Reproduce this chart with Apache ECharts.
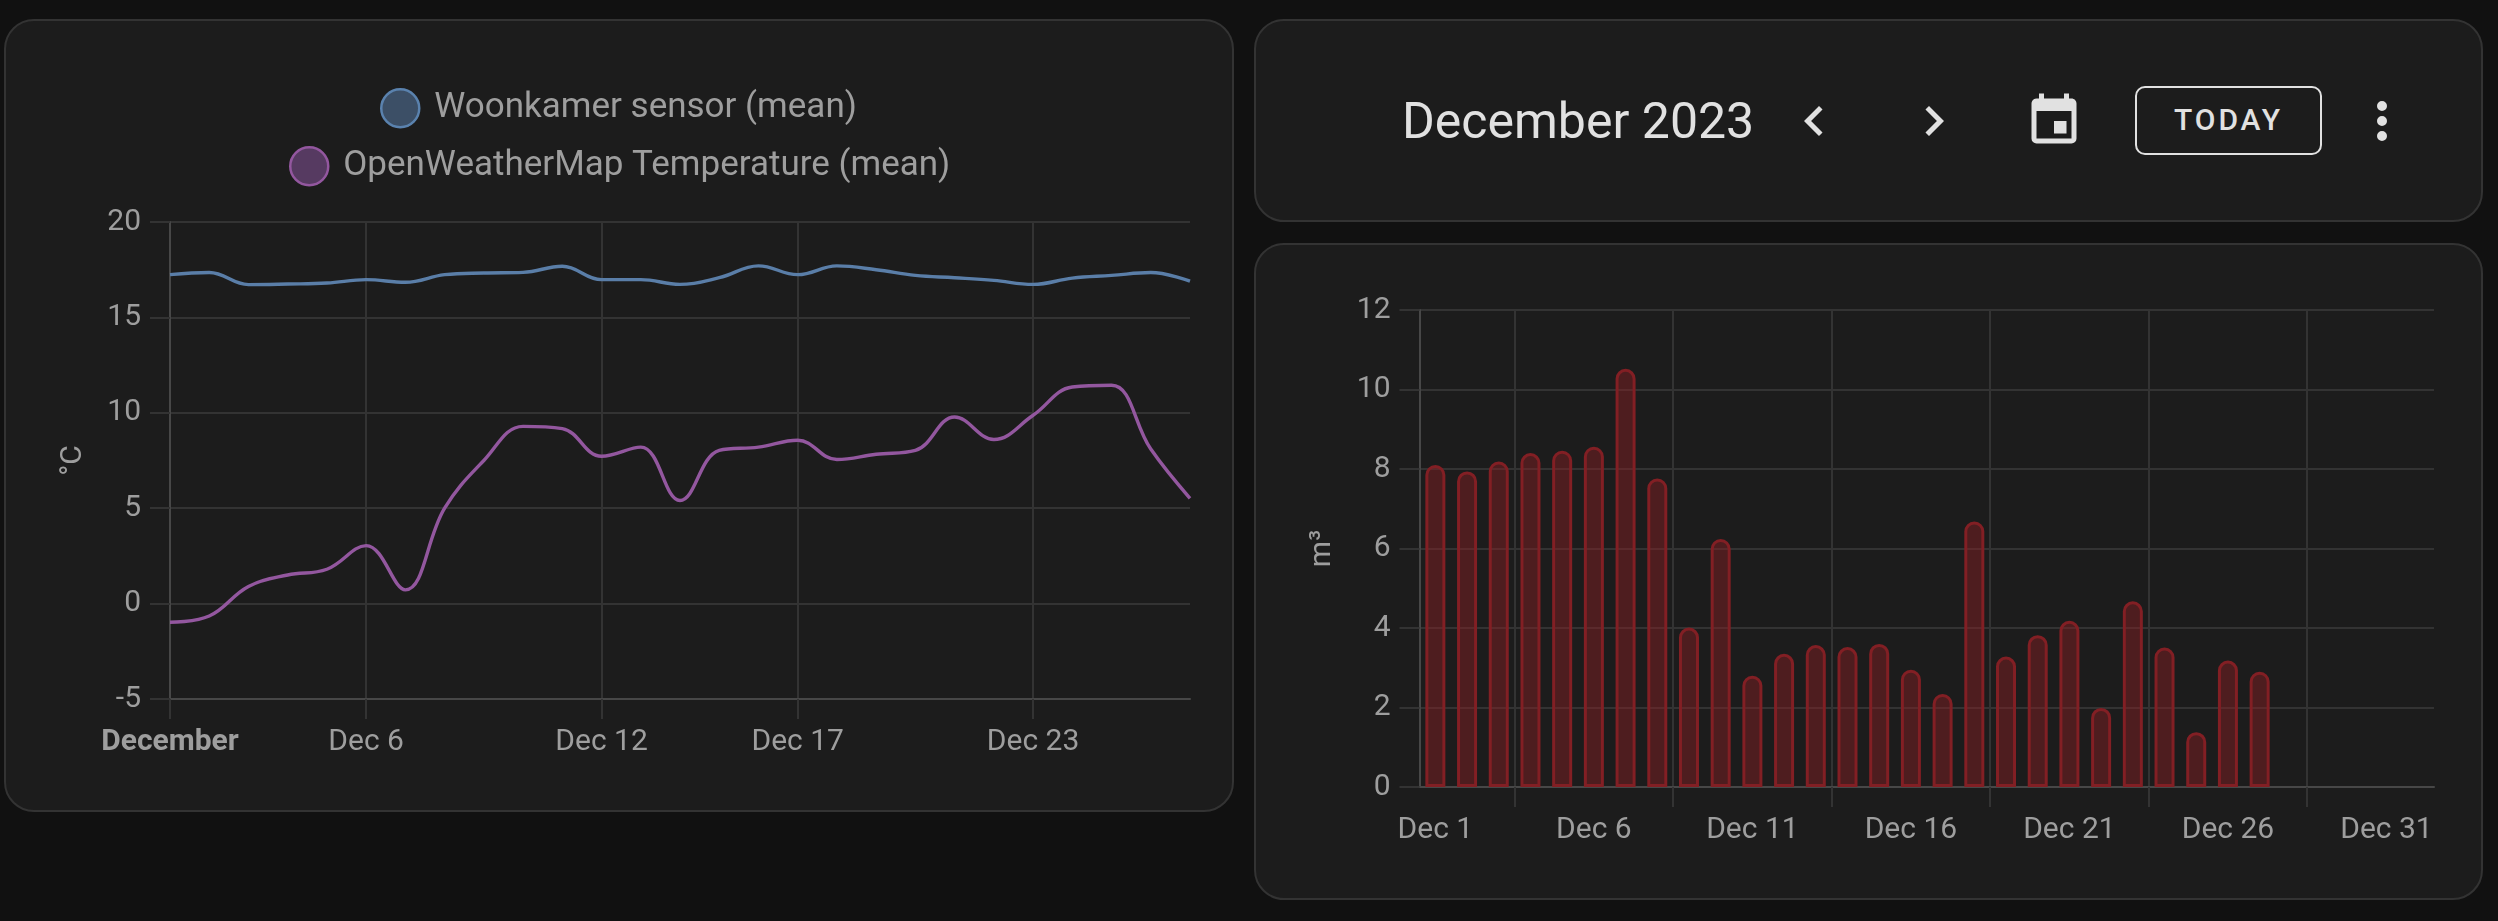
<!DOCTYPE html>
<html>
<head>
<meta charset="utf-8">
<title>December 2023</title>
<script src="https://cdn.jsdelivr.net/npm/echarts@6/dist/echarts.min.js"></script>
<style>
  html, body { margin: 0; width: 2498px; height: 921px; background: #111111; overflow: hidden; font-family: Roboto, sans-serif; }
  .card { position: absolute; box-sizing: border-box; background: #1c1c1c; border: 2px solid #333333; border-radius: 30px; }
  #chart { position: absolute; left: 0; top: 0; width: 2498px; height: 921px; }
  .title { position: absolute; left: 1402px; top: 91px; font-size: 50px; line-height: 60px; color: #e1e1e1; white-space: nowrap; }
  .today { position: absolute; box-sizing: border-box; left: 2135px; top: 86px; width: 187px; height: 69px; border: 2.5px solid #e1e1e1; border-radius: 10px;
           color: #e1e1e1; font-size: 30px; font-weight: 500; letter-spacing: 2.9px; line-height: 64px; text-align: center; }
  svg.icon { position: absolute; fill: #e1e1e1; }
</style>
</head>
<body>
<div class="card" style="left:4px;top:19px;width:1230px;height:793px"></div>
<div class="card" style="left:1254px;top:19px;width:1229px;height:203px"></div>
<div class="card" style="left:1254px;top:243px;width:1229px;height:657px"></div>

<div class="title">December 2023</div>
<svg class="icon" style="left:1784px;top:91px" width="60" height="60" viewBox="0 0 24 24"><path d="M15.41,16.58L10.83,12L15.41,7.41L14,6L8,12L14,18L15.41,16.58Z"/></svg>
<svg class="icon" style="left:1904px;top:91px" width="60" height="60" viewBox="0 0 24 24"><path d="M8.59,16.58L13.17,12L8.59,7.41L10,6L16,12L10,18L8.59,16.58Z"/></svg>
<svg class="icon" style="left:2024px;top:90.5px" width="60" height="60" viewBox="0 0 24 24"><path d="M19 19H5V8H19M16 1V3H8V1H6V3H5C3.89 3 3 3.89 3 5V19A2 2 0 0 0 5 21H19A2 2 0 0 0 21 19V5C21 3.89 20.1 3 19 3H18V1M17 12H12V17H17V12Z"/></svg>
<div class="today">TODAY</div>
<svg class="icon" style="left:2352px;top:91px" width="60" height="60" viewBox="0 0 24 24"><path d="M12,16A2,2 0 0,1 14,18A2,2 0 0,1 12,20A2,2 0 0,1 10,18A2,2 0 0,1 12,16M12,10A2,2 0 0,1 14,12A2,2 0 0,1 12,14A2,2 0 0,1 10,12A2,2 0 0,1 12,10M12,4A2,2 0 0,1 14,6A2,2 0 0,1 12,8A2,2 0 0,1 10,6A2,2 0 0,1 12,4Z"/></svg>

<div id="chart"></div>

<script>
// temperature chart, one value per day starting Dec 1
var sensorName = 'Woonkamer sensor (mean)'
var weatherName = 'OpenWeatherMap Temperature (mean)'
var sensorTemps = [17.24, 17.35, 16.72, 16.75, 16.8, 16.98, 16.84, 17.24, 17.33, 17.36, 17.68, 16.98, 16.98, 16.73,
    17.08, 17.7, 17.24, 17.7, 17.5, 17.2, 17.08, 16.94, 16.73, 17.06, 17.2, 17.35, 16.9]
var weatherTemps = [-0.98, -0.65, 0.9, 1.5, 1.8, 3.04, 0.72, 5.0, 7.5, 9.29, 9.17, 7.72, 8.2, 5.4,
    8.03, 8.2, 8.56, 7.55, 7.83, 8.03, 9.78, 8.6, 9.87, 11.35, 11.44, 8.1, 5.52]
var tempTickDays = [0, 5, 11, 16, 22]
var tempTickLabels = ['December', 'Dec 6', 'Dec 12', 'Dec 17', 'Dec 23']

// water chart, one bar per day, Dec 1 to Dec 27
var waterValues = [8.1, 7.94, 8.19, 8.4, 8.46, 8.56, 10.52, 7.76, 4.01, 6.24, 2.8, 3.35, 3.57, 3.52, 3.6, 2.95, 2.34,
    6.68, 3.28, 3.82, 4.18, 1.99, 4.67, 3.51, 1.38, 3.18, 2.9]
var waterSlots = 32
var waterTickSlots = [3, 8, 13, 18, 23, 28]
var waterLabelDays = [0, 5, 10, 15, 20, 25, 30]
var waterLabels = ['Dec 1', 'Dec 6', 'Dec 11', 'Dec 16', 'Dec 21', 'Dec 26', 'Dec 31']

var labelColor = '#9e9e9e'
var gridColor = '#333333'
var axisColor = '#474747'
var labelFont = 'Roboto'

function baseYAxis(gridIndex, name, min, max, interval, nameGap) {
    return {
        type: 'value',
        gridIndex: gridIndex,
        min: min,
        max: max,
        interval: interval,
        name: name,
        nameLocation: 'middle',
        nameGap: nameGap,
        nameTextStyle: {color: labelColor, fontSize: 30, fontFamily: labelFont},
        axisLine: {show: true, lineStyle: {color: axisColor, width: 2}},
        axisTick: {show: true, length: 20, lineStyle: {color: gridColor, width: 2}},
        axisLabel: {margin: 29, fontSize: 30, color: labelColor, fontFamily: labelFont},
        splitLine: {show: true, lineStyle: {color: gridColor, width: 2}}
    }
}

var chart = echarts.init(document.getElementById('chart'))
var option = {
    animation: false,
    legend: [
        {
            left: 380, top: 88, padding: 0, itemWidth: 38, itemHeight: 38,
            textStyle: {color: labelColor, fontSize: 35, fontFamily: labelFont, padding: [0, 0, 0, 10]},
            data: [{name: sensorName, icon: 'circle', itemStyle: {color: '#3c4f66', borderColor: '#5a82ae', borderWidth: 2.5}}]
        },
        {
            left: 289, top: 146, padding: 0, itemWidth: 38, itemHeight: 38,
            textStyle: {color: labelColor, fontSize: 35, fontFamily: labelFont, padding: [0, 0, 0, 10]},
            data: [{name: weatherName, icon: 'circle', itemStyle: {color: '#563a61', borderColor: '#93579f', borderWidth: 2.5}}]
        }
    ],
    grid: [
        {left: 170, top: 222, width: 1020, height: 477},
        {left: 1419.5, top: 310, width: 1014.5, height: 477}
    ],
    xAxis: [
        {
            type: 'value',
            gridIndex: 0,
            min: 0,
            max: sensorTemps.length - 1,
            axisLine: {show: true, onZero: false, lineStyle: {color: axisColor, width: 2}},
            axisTick: {show: true, length: 20, customValues: tempTickDays, lineStyle: {color: gridColor, width: 2}},
            axisLabel: {
                margin: 28,
                fontSize: 30,
                color: labelColor,
                fontFamily: labelFont,
                customValues: tempTickDays,
                formatter: function (v) {
                    var text = tempTickLabels[tempTickDays.indexOf(v)]
                    return v === 0 ? '{b|' + text + '}' : text
                },
                rich: {b: {fontSize: 30, fontWeight: 'bold', color: labelColor, fontFamily: labelFont}}
            },
            splitLine: {show: true, lineStyle: {color: gridColor, width: 2}}
        },
        {
            type: 'value',
            gridIndex: 1,
            min: 0,
            max: waterSlots,
            axisLine: {show: true, onZero: false, lineStyle: {color: axisColor, width: 2}},
            axisTick: {show: true, length: 20, customValues: waterTickSlots, lineStyle: {color: gridColor, width: 2}},
            axisLabel: {
                margin: 28,
                fontSize: 30,
                color: labelColor,
                fontFamily: labelFont,
                customValues: waterLabelDays.map(function (d) { return d + 0.5 }),
                formatter: function (v) { return waterLabels[waterLabelDays.indexOf(v - 0.5)] }
            },
            splitLine: {show: true, lineStyle: {color: gridColor, width: 2}}
        }
    ],
    yAxis: [
        baseYAxis(0, '°C', -5, 20, 5, 82),
        baseYAxis(1, 'm³', 0, 12, 2, 82)
    ],
    series: [
        {
            name: sensorName,
            type: 'line',
            xAxisIndex: 0,
            yAxisIndex: 0,
            showSymbol: false,
            smooth: 0.4,
            lineStyle: {color: '#5a7ea8', width: 3.4},
            itemStyle: {color: '#5a7ea8'},
            data: sensorTemps.map(function (v, i) { return [i, v] })
        },
        {
            name: weatherName,
            type: 'line',
            xAxisIndex: 0,
            yAxisIndex: 0,
            showSymbol: false,
            smooth: 0.4,
            lineStyle: {color: '#93579f', width: 3.4},
            itemStyle: {color: '#93579f'},
            data: weatherTemps.map(function (v, i) { return [i, v] })
        },
        {
            type: 'bar',
            xAxisIndex: 1,
            yAxisIndex: 1,
            barWidth: 20,
            itemStyle: {
                color: 'rgba(139,32,36,0.45)',
                borderColor: '#821f24',
                borderWidth: 3,
                borderRadius: [11, 11, 0, 0]
            },
            data: waterValues.map(function (v, i) { return [i + 0.5, v] })
        }
    ]
}
chart.setOption(option)
</script>
</body>
</html>
